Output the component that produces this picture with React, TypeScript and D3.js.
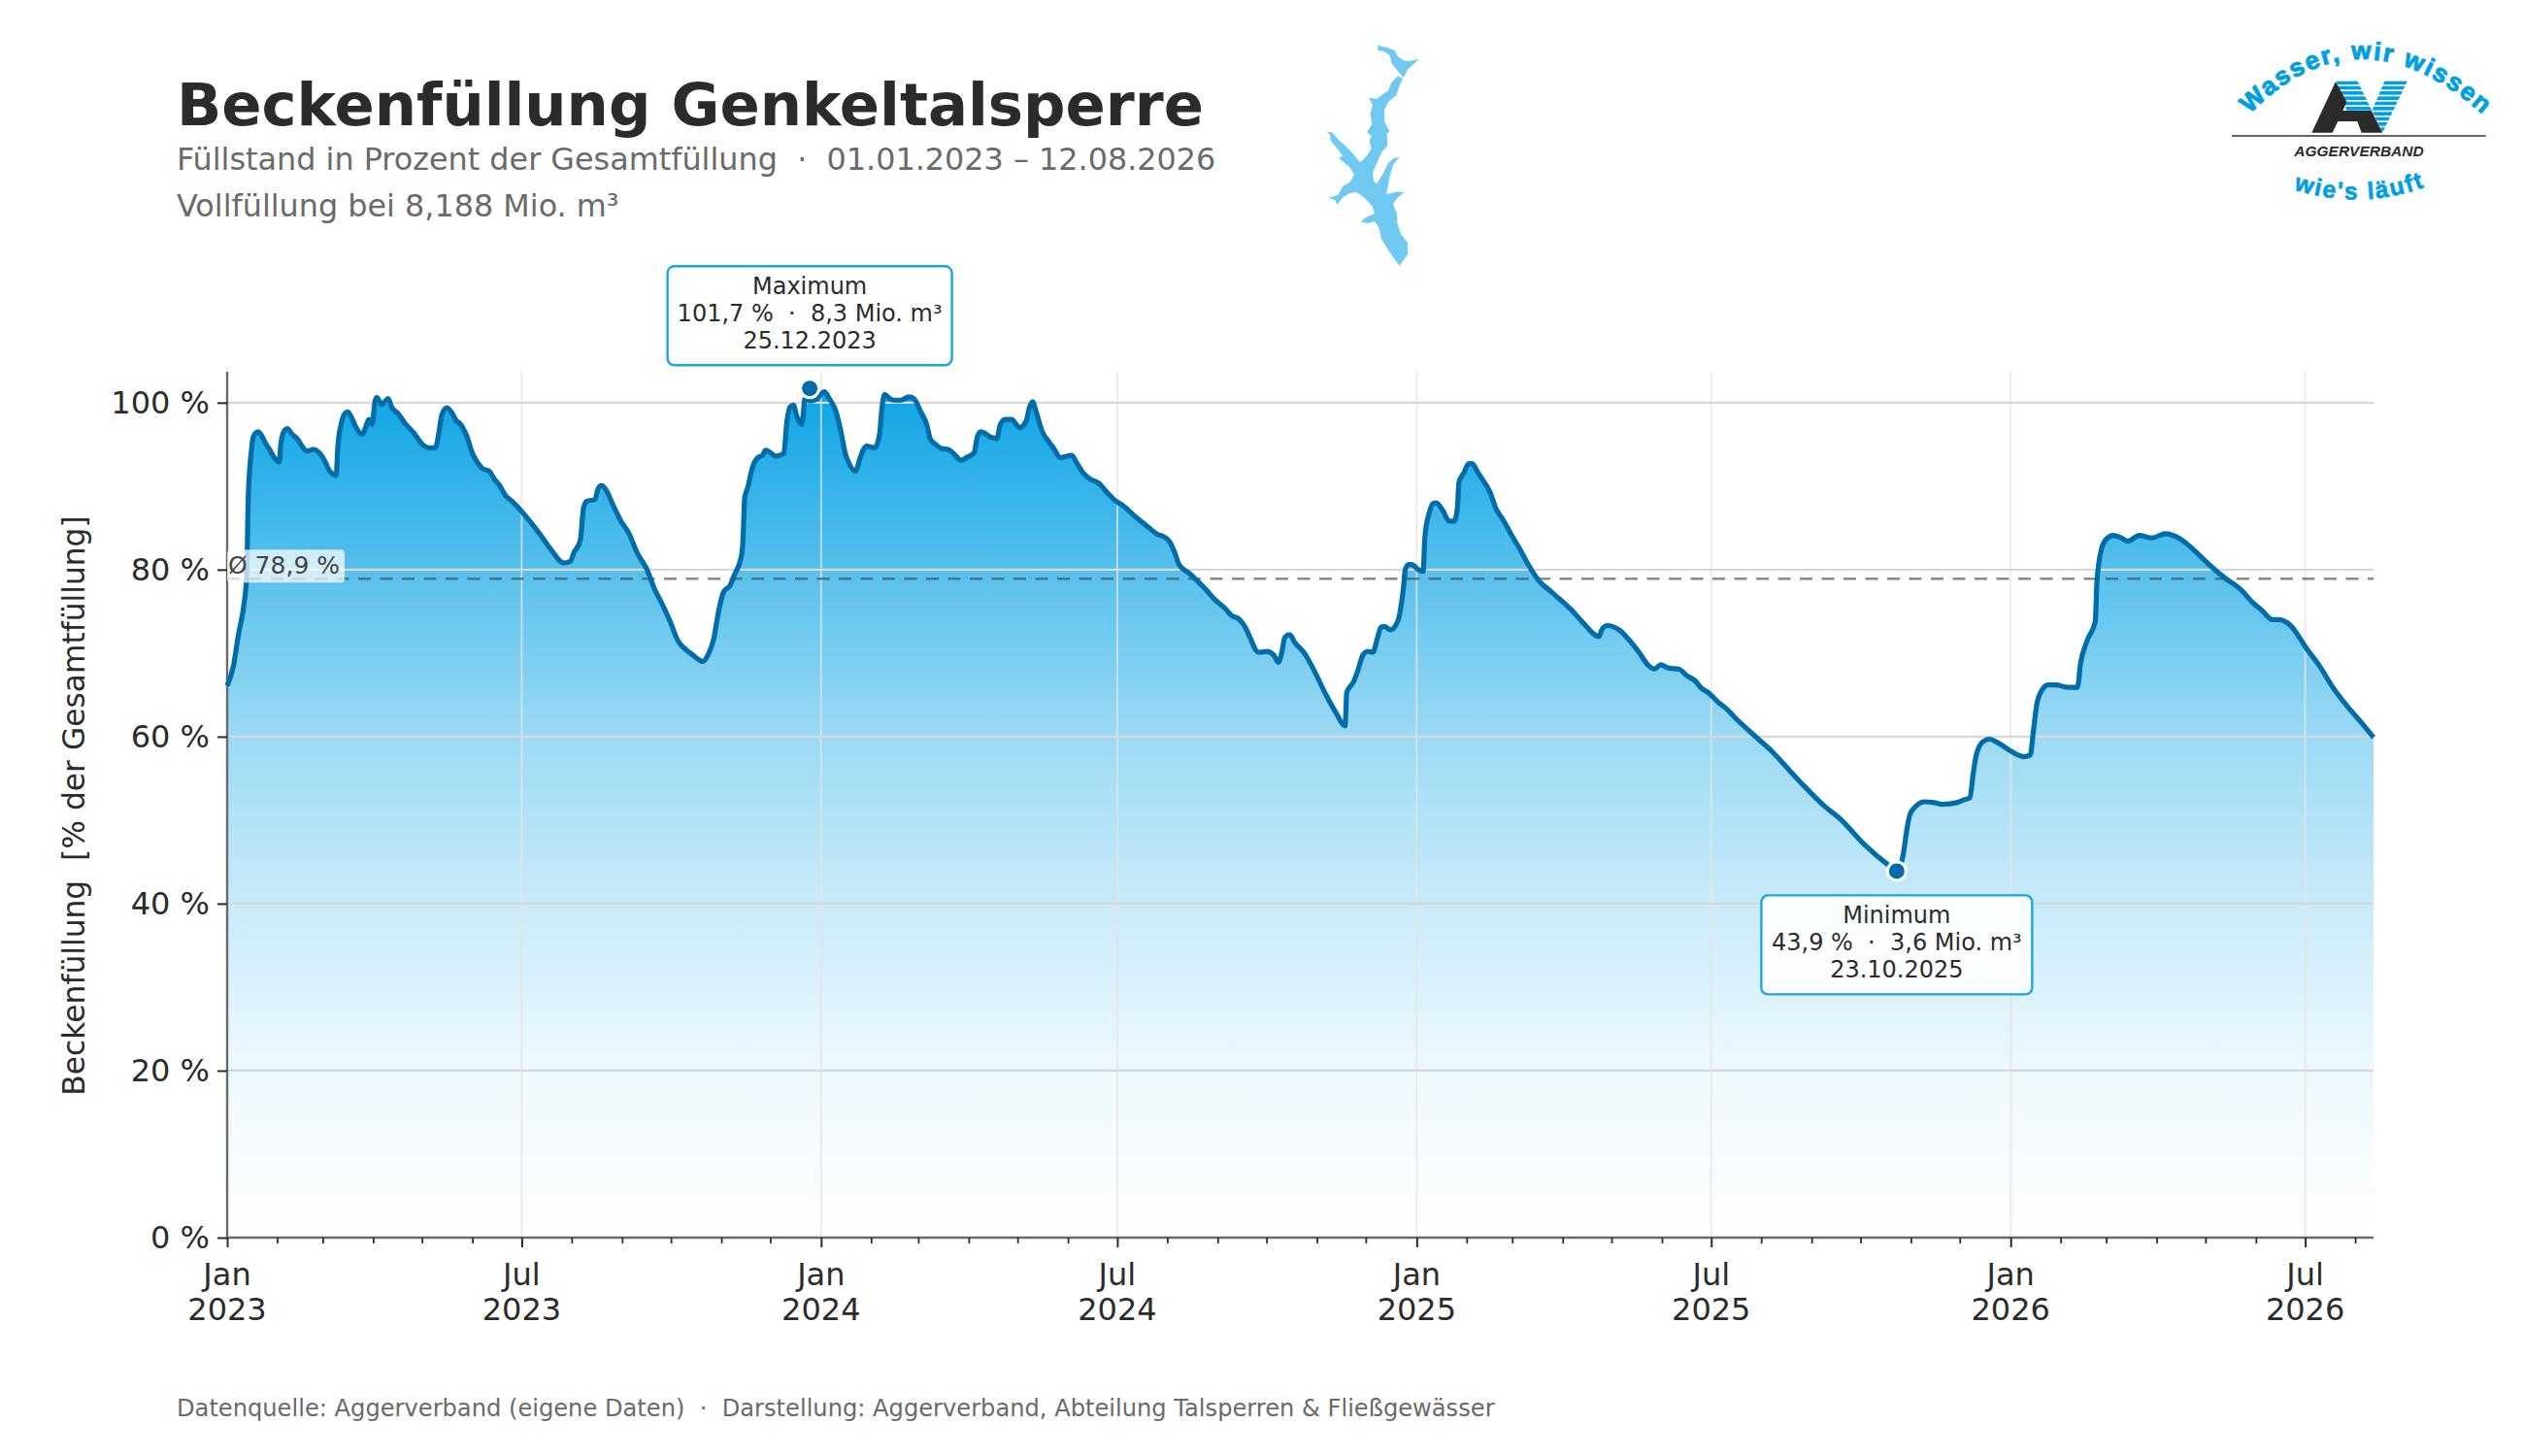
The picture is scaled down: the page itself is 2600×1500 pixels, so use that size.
import React, { useEffect, useRef } from "react";
import * as d3 from "d3";

const START_DATE = new Date(2023, 0, 1);
const END_DATE = new Date(2026, 7, 12);

// days since 01.01.2023
const dayOffsets = [
    0, 4, 7, 10, 12, 13, 15, 16, 19, 21, 24, 26, 29, 32, 33, 35, 37, 40, 43, 46, 49, 53, 57, 60, 63, 67, 68, 70, 72, 74,
    76, 79, 83, 85, 87, 89, 91, 92, 95, 99, 101, 105, 109, 115, 120, 124, 128, 130, 132, 135, 138, 141, 143, 147, 151, 154, 157, 161, 164, 167,
    171, 175, 180, 186, 192, 199, 207, 211, 213, 217, 219, 221, 226, 228, 230, 233, 237, 242, 247, 252, 258, 263, 266, 272, 277, 282, 286, 290, 292, 296,
    299, 302, 305, 309, 312, 316, 317, 318, 320, 323, 326, 329, 331, 334, 337, 342, 344, 346, 348, 350, 353, 354, 355, 358, 362, 367, 370, 374, 377, 380,
    382, 386, 389, 391, 393, 398, 401, 402, 404, 407, 410, 414, 419, 422, 426, 430, 432, 436, 439, 443, 447, 451, 455, 459, 461, 463, 465, 469, 473, 475,
    478, 482, 487, 491, 493, 495, 497, 501, 505, 508, 512, 519, 522, 526, 530, 536, 540, 545, 551, 559, 566, 572, 575, 579, 582, 585, 591, 596, 602, 606,
    613, 618, 621, 625, 629, 632, 634, 639, 643, 646, 648, 650, 653, 656, 662, 668, 675, 681, 687, 688, 692, 695, 698, 701, 704, 707, 709, 711, 715, 718,
    720, 723, 724, 726, 728, 732, 735, 736, 739, 741, 743, 747, 751, 754, 756, 757, 760, 763, 765, 769, 776, 780, 784, 790, 794, 799, 806, 814, 826, 833,
    843, 845, 848, 856, 861, 868, 873, 877, 881, 886, 892, 897, 902, 906, 910, 917, 921, 927, 941, 950, 958, 968, 982, 991, 1006, 1021, 1026, 1030, 1032, 1034,
    1038, 1043, 1049, 1054, 1063, 1067, 1071, 1073, 1075, 1079, 1083, 1087, 1095, 1104, 1108, 1110, 1112, 1115, 1119, 1124, 1131, 1137, 1139, 1143, 1148, 1149, 1152, 1155, 1159, 1164,
    1168, 1175, 1183, 1191, 1200, 1206, 1218, 1227, 1238, 1245, 1250, 1257, 1261, 1268, 1278, 1286, 1294, 1303, 1311, 1319,
];

// Beckenfüllung in percent, same order as dayOffsets
const fillPercent = [
    66.1, 68.6, 72.3, 75.4, 79.3, 88.9, 94.4, 95.9, 96.5, 96.1, 95.0, 94.4, 93.4, 92.9, 95.1, 96.6, 96.9, 96.2, 95.7, 94.8, 94.2, 94.4, 93.9, 93.0, 91.8, 91.3, 94.7, 97.4, 98.6, 98.9,
    98.4, 97.1, 96.2, 97.0, 98.0, 97.4, 100.3, 100.6, 99.8, 100.5, 99.5, 98.7, 97.6, 96.3, 95.0, 94.6, 94.6, 96.3, 98.6, 99.4, 98.8, 97.8, 97.5, 96.1, 93.8, 92.8, 92.1, 91.8, 90.9, 90.2,
    88.9, 88.2, 87.2, 85.8, 84.3, 82.4, 80.8, 81.0, 82.0, 83.5, 87.4, 88.2, 88.4, 89.7, 90.1, 89.5, 87.8, 85.8, 84.3, 82.0, 80.0, 77.5, 76.4, 73.9, 71.5, 70.4, 69.8, 69.2, 69.0, 70.0,
    71.7, 75.0, 77.3, 78.1, 79.5, 81.6, 83.5, 88.5, 89.9, 92.4, 93.4, 93.7, 94.3, 94.0, 93.6, 93.9, 97.8, 99.5, 99.7, 98.4, 97.4, 98.6, 100.5, 100.2, 100.4, 101.3, 100.5, 99.0, 96.7, 93.8,
    92.8, 91.8, 93.4, 94.4, 94.8, 94.6, 96.3, 98.6, 101.0, 100.5, 100.3, 100.3, 100.7, 100.5, 99.0, 97.3, 95.7, 94.9, 94.5, 94.4, 93.8, 93.1, 93.5, 94.0, 95.9, 96.5, 96.4, 95.9, 95.7, 97.3,
    98.0, 98.0, 97.0, 97.8, 99.4, 100.1, 99.0, 96.5, 95.3, 94.5, 93.4, 93.7, 92.8, 91.6, 90.9, 90.3, 89.4, 88.4, 87.6, 86.2, 85.1, 84.2, 84.0, 83.4, 82.2, 80.6, 79.6, 78.7, 77.5, 76.6,
    75.4, 74.4, 74.2, 73.3, 71.7, 70.4, 70.1, 70.2, 69.8, 68.9, 70.0, 71.9, 72.2, 71.3, 70.0, 67.9, 65.1, 63.0, 61.3, 65.3, 66.5, 68.0, 69.8, 70.2, 70.1, 71.9, 73.1, 73.2, 72.8, 73.3,
    74.2, 78.1, 80.0, 80.6, 80.6, 80.0, 79.8, 83.9, 87.0, 87.9, 88.0, 87.1, 85.8, 85.8, 87.4, 90.5, 91.6, 92.7, 92.7, 91.5, 89.3, 87.2, 86.0, 83.9, 82.6, 80.8, 78.7, 77.3, 75.2, 73.7,
    72.0, 72.9, 73.3, 72.7, 71.7, 70.0, 68.6, 68.1, 68.6, 68.2, 68.1, 67.3, 66.7, 65.8, 65.3, 64.0, 63.4, 62.2, 59.7, 58.1, 56.4, 54.3, 51.6, 50.2, 47.1, 44.6, 43.9, 45.9, 48.6, 50.6,
    51.7, 52.2, 52.1, 51.9, 52.1, 52.4, 52.7, 55.6, 57.9, 59.4, 59.7, 59.4, 58.4, 57.6, 57.8, 60.7, 63.8, 65.5, 66.2, 66.2, 65.9, 65.9, 68.8, 71.5, 73.8, 78.5, 82.6, 83.7, 84.1, 83.8,
    83.4, 84.1, 83.8, 84.3, 83.7, 82.8, 80.6, 79.1, 77.5, 76.0, 75.2, 74.0, 74.0, 73.3, 70.5, 68.4, 65.9, 63.6, 61.8, 59.9,
];

const yTicks = [0, 20, 40, 60, 80, 100];
const AVERAGE = 78.9;
const MAX_POINT = { label: "Maximum", day: 358, value: 101.7, volume: "8,3", date: "25.12.2023" };
const MIN_POINT = { label: "Minimum", day: 1026, value: 43.9, volume: "3,6", date: "23.10.2025" };

const FONT = "'DejaVu Sans', sans-serif";
const DARK = "#2b2b2b";
const GREY = "#6a6a6a";
const BLUE = "#009fe3";
const LINE_BLUE = "#006ca8";
const WIDTH = 2600;
const HEIGHT = 1500;
const margin = { top: 383, right: 155, bottom: 225, left: 234 };

const dateAt = (day: number) => d3.timeDay.offset(START_DATE, day);

// Talsperre outline, taken from the small map in the header
const LAKE_UPPER = "M238,50 L270,58 L290,65 L300,85 L320,98 L340,98 L365,92 L345,112 L330,125 L318,150 L300,130 L280,105 L275,80 L255,68 L238,66 Z";
const LAKE_MAIN = "M300,145 L315,152 L305,175 L295,205 L270,225 L258,250 L258,285 L275,318 L266,322 L268,360 L250,380 L232,420 L222,445 L225,470 L235,478 L255,445 L270,415 L285,400 L305,395 L285,420 L275,455 L265,510 L295,503 L320,503 L300,520 L285,540 L297,570 L298,600 L310,635 L330,660 L330,695 L305,732 L275,690 L250,650 L240,610 L228,595 L205,600 L185,595 L200,583 L228,570 L220,545 L195,520 L170,503 L150,508 L130,520 L112,542 L105,527 L85,522 L115,512 L130,485 L150,475 L165,450 L150,425 L125,405 L118,398 L130,392 L105,360 L92,345 L90,325 L80,318 L95,318 L120,345 L150,372 L183,412 L205,390 L218,370 L212,345 L218,330 L205,318 L220,295 L215,260 L222,235 L210,212 L235,215 L270,190 L280,165 Z";

function Logo() {
    const stripes = d3.range(190, 350, 16);
    return (
        <g transform="translate(2280,20) scale(0.3333)">
            <defs>
                <path id="arcTop" d="M 112 292 Q 450 -48 835 296" />
                <path id="arcBottom" d="M 248 525 Q 450 592 654 518" />
                <clipPath id="vClip">
                    <path d="M380,190 L445,190 L490,282 L412,282 Z M530,190 L600,190 L523,350 L490,282 Z" />
                </clipPath>
            </defs>
            <g clipPath="url(#vClip)">
                {stripes.map((s) => (
                    <rect key={s} x={370} y={s} width={240} height={11} fill={BLUE} />
                ))}
            </g>
            <path d="M378,192 L304,350 L368,350 L385,315 L445,315 L458,350 L523,350 L488,282 L400,282 L412,255 Z" fill={DARK} />
            <line x1={57} x2={842} y1={360} y2={360} stroke="#333" strokeWidth={5} />
            <text x={450} y={422} textAnchor="middle" fontFamily="'Liberation Sans'" fontWeight="bold" fontStyle="italic" fontSize={44} textLength={400} lengthAdjust="spacingAndGlyphs" fill={DARK}>AGGERVERBAND</text>
            <text fontFamily="'Liberation Sans'" fontWeight="bold" fontSize={78} fill={BLUE} stroke={BLUE} strokeWidth={3}>
                <textPath href="#arcTop" textLength={815} lengthAdjust="spacing">Wasser, wir wissen</textPath>
            </text>
            <text fontFamily="'Liberation Sans'" fontWeight="bold" fontSize={74} fill={BLUE} stroke={BLUE} strokeWidth={2}>
                <textPath href="#arcBottom" textLength={412} lengthAdjust="spacing">wie's läuft</textPath>
            </text>
        </g>
    );
}

export default function App() {
    const svgRef = useRef<SVGSVGElement | null>(null);

    useEffect(() => {
        if (!svgRef.current) return;
        const root = d3.select(svgRef.current).select<SVGGElement>("g.chart");
        root.selectAll("*").remove();

        const x = d3.scaleTime()
            .domain([START_DATE, END_DATE])
            .range([margin.left, WIDTH - margin.right]);
        const y = d3.scaleLinear()
            .domain([0, 103.7])
            .range([HEIGHT - margin.bottom, margin.top]);

        const series = dayOffsets.map((d, i) => ({ date: dateAt(d), value: fillPercent[i] }));
        const curve = d3.curveMonotoneX;

        const defs = root.append("defs");
        const grad = defs.append("linearGradient")
            .attr("id", "fillGradient")
            .attr("gradientUnits", "userSpaceOnUse")
            .attr("x1", 0).attr("x2", 0)
            .attr("y1", y(101.7)).attr("y2", y(0));
        [[0, 0.95], [0.2, 0.68], [0.4, 0.4], [0.6, 0.22], [0.8, 0.07], [1, 0]].forEach(([o, a]) => {
            grad.append("stop").attr("offset", o).attr("stop-color", BLUE).attr("stop-opacity", a);
        });

        const area = d3.area<{ date: Date; value: number }>()
            .x((d) => x(d.date))
            .y0(y(0))
            .y1((d) => y(d.value))
            .curve(curve);
        const line = d3.line<{ date: Date; value: number }>()
            .x((d) => x(d.date))
            .y((d) => y(d.value))
            .curve(curve);

        root.append("path").datum(series).attr("d", area).attr("fill", "url(#fillGradient)");

        // grid sits on top of the fill
        const majorTicks = d3.timeMonth.every(6)!.range(START_DATE, END_DATE);
        const minorTicks = d3.timeMonth.range(START_DATE, END_DATE);

        root.append("g").selectAll("line").data(majorTicks).join("line")
            .attr("x1", (d) => x(d)).attr("x2", (d) => x(d))
            .attr("y1", y.range()[1]).attr("y2", y(0))
            .attr("stroke", "#e4e4e4").attr("stroke-opacity", 0.75).attr("stroke-width", 2);
        root.append("g").selectAll("line").data(yTicks.slice(1)).join("line")
            .attr("x1", x.range()[0]).attr("x2", x.range()[1])
            .attr("y1", (d) => y(d)).attr("y2", (d) => y(d))
            .attr("stroke", "#d8d8d8").attr("stroke-width", 2.2);

        root.append("line")
            .attr("x1", x.range()[0]).attr("x2", x.range()[1])
            .attr("y1", y(AVERAGE)).attr("y2", y(AVERAGE))
            .attr("stroke", "#4a4a4a").attr("stroke-opacity", 0.65)
            .attr("stroke-width", 2.6).attr("stroke-dasharray", "13 9.5");

        // axes
        const yAxis = root.append("g")
            .attr("transform", `translate(${margin.left},0)`)
            .call(d3.axisLeft(y).tickValues(yTicks).tickFormat((d) => `${d} %`).tickSize(10).tickPadding(8));
        yAxis.select(".domain").attr("stroke", GREY).attr("stroke-width", 2.4).attr("d", `M0,${y(103.7)}V${y(0)}`);
        yAxis.selectAll(".tick line").attr("stroke", DARK).attr("stroke-width", 2);
        yAxis.selectAll("text").attr("font-family", FONT).attr("font-size", 32).attr("fill", DARK);

        const xAxis = root.append("g")
            .attr("transform", `translate(0,${y(0)})`)
            .call(d3.axisBottom(x).tickValues(majorTicks).tickFormat(() => "").tickSize(10));
        xAxis.select(".domain").attr("stroke", GREY).attr("stroke-width", 2.4).attr("d", `M${x.range()[0]},0H${x.range()[1]}`);
        xAxis.selectAll(".tick line").attr("stroke", DARK).attr("stroke-width", 2);
        xAxis.append("g").selectAll("line").data(minorTicks.filter((m) => m.getMonth() % 6 !== 0)).join("line")
            .attr("x1", (d) => x(d)).attr("x2", (d) => x(d))
            .attr("y1", 0).attr("y2", 6)
            .attr("stroke", DARK).attr("stroke-width", 1.8);
        const monthName = d3.timeFormat("%b");
        const tickLabels = xAxis.append("g").selectAll("text").data(majorTicks).join("text")
            .attr("text-anchor", "middle")
            .attr("font-family", FONT).attr("font-size", 32).attr("fill", DARK);
        tickLabels.append("tspan").attr("x", (d) => x(d)).attr("y", 48.5).text((d) => monthName(d));
        tickLabels.append("tspan").attr("x", (d) => x(d)).attr("y", 84.5).text((d) => d.getFullYear());

        root.append("path").datum(series).attr("d", line)
            .attr("fill", "none").attr("stroke", LINE_BLUE).attr("stroke-width", 5.2).attr("stroke-linejoin", "round");

        // Ø label
        const avgG = root.append("g");
        avgG.append("rect")
            .attr("x", x.range()[0]).attr("y", y(AVERAGE) - 30)
            .attr("width", 121).attr("height", 34).attr("rx", 4)
            .attr("fill", "#fff").attr("fill-opacity", 0.72);
        avgG.append("text")
            .attr("x", x.range()[0] + 1).attr("y", y(AVERAGE) - 5)
            .attr("font-family", FONT).attr("font-size", 25).attr("fill", "#444")
            .text(`Ø ${String(AVERAGE).replace(".", ",")} %`);

        // max and min call-outs
        const callouts = [
            { ...MAX_POINT, boxTop: y(MAX_POINT.value) - 126, boxW: 293 },
            { ...MIN_POINT, boxTop: y(MIN_POINT.value) + 25, boxW: 279 },
        ];
        callouts.forEach((c) => {
            const cx = x(dateAt(c.day));
            const cy = y(c.value);
            root.append("circle").attr("cx", cx).attr("cy", cy).attr("r", 9.5)
                .attr("fill", LINE_BLUE).attr("stroke", "#fff").attr("stroke-width", 3);
            const g = root.append("g");
            g.append("rect")
                .attr("x", cx - c.boxW / 2).attr("y", c.boxTop)
                .attr("width", c.boxW).attr("height", 102).attr("rx", 7)
                .attr("fill", "#fff").attr("fill-opacity", 0.92)
                .attr("stroke", "#16a7e6").attr("stroke-width", 2.4);
            const lines = [c.label, `${String(c.value).replace(".", ",")} %  ·  ${c.volume} Mio. m³`, c.date];
            lines.forEach((t, i) => {
                g.append("text")
                    .attr("x", cx).attr("y", c.boxTop + 29 + i * 28)
                    .attr("text-anchor", "middle")
                    .attr("font-family", FONT).attr("font-size", 24).attr("fill", DARK)
                    .style("white-space", "pre")
                    .text(t);
            });
        });
    }, []);

    return (
        <svg
            ref={svgRef}
            width={WIDTH}
            height={HEIGHT}
            viewBox={`0 0 ${WIDTH} ${HEIGHT}`}
            style={{ position: "absolute", left: 0, top: 0, background: "#fff" }}
        >
            <text x={182} y={129} fontFamily={FONT} fontWeight="bold" fontSize={60.8} fill={DARK}>Beckenfüllung Genkeltalsperre</text>
            <text x={182} y={175} fontFamily={FONT} fontSize={31.85} fill={GREY} style={{ whiteSpace: "pre" }}>Füllstand in Prozent der Gesamtfüllung  ·  01.01.2023 – 12.08.2026</text>
            <text x={182} y={223} fontFamily={FONT} fontSize={31.85} fill={GREY}>Vollfüllung bei 8,188 Mio. m³</text>
            <g transform="translate(1340,30) scale(0.3333)" fill="#6fc9f0">
                <path d={LAKE_UPPER} />
                <path d={LAKE_MAIN} />
            </g>
            <Logo />
            <text transform="translate(87,830) rotate(-90)" textAnchor="middle" fontFamily={FONT} fontSize={31.3} fill={DARK} style={{ whiteSpace: "pre" }}>Beckenfüllung  [% der Gesamtfüllung]</text>
            <g className="chart" />
            <text x={182} y={1459} fontFamily={FONT} fontSize={24.15} fill={GREY} style={{ whiteSpace: "pre" }}>Datenquelle: Aggerverband (eigene Daten)  ·  Darstellung: Aggerverband, Abteilung Talsperren &amp; Fließgewässer</text>
        </svg>
    );
}
